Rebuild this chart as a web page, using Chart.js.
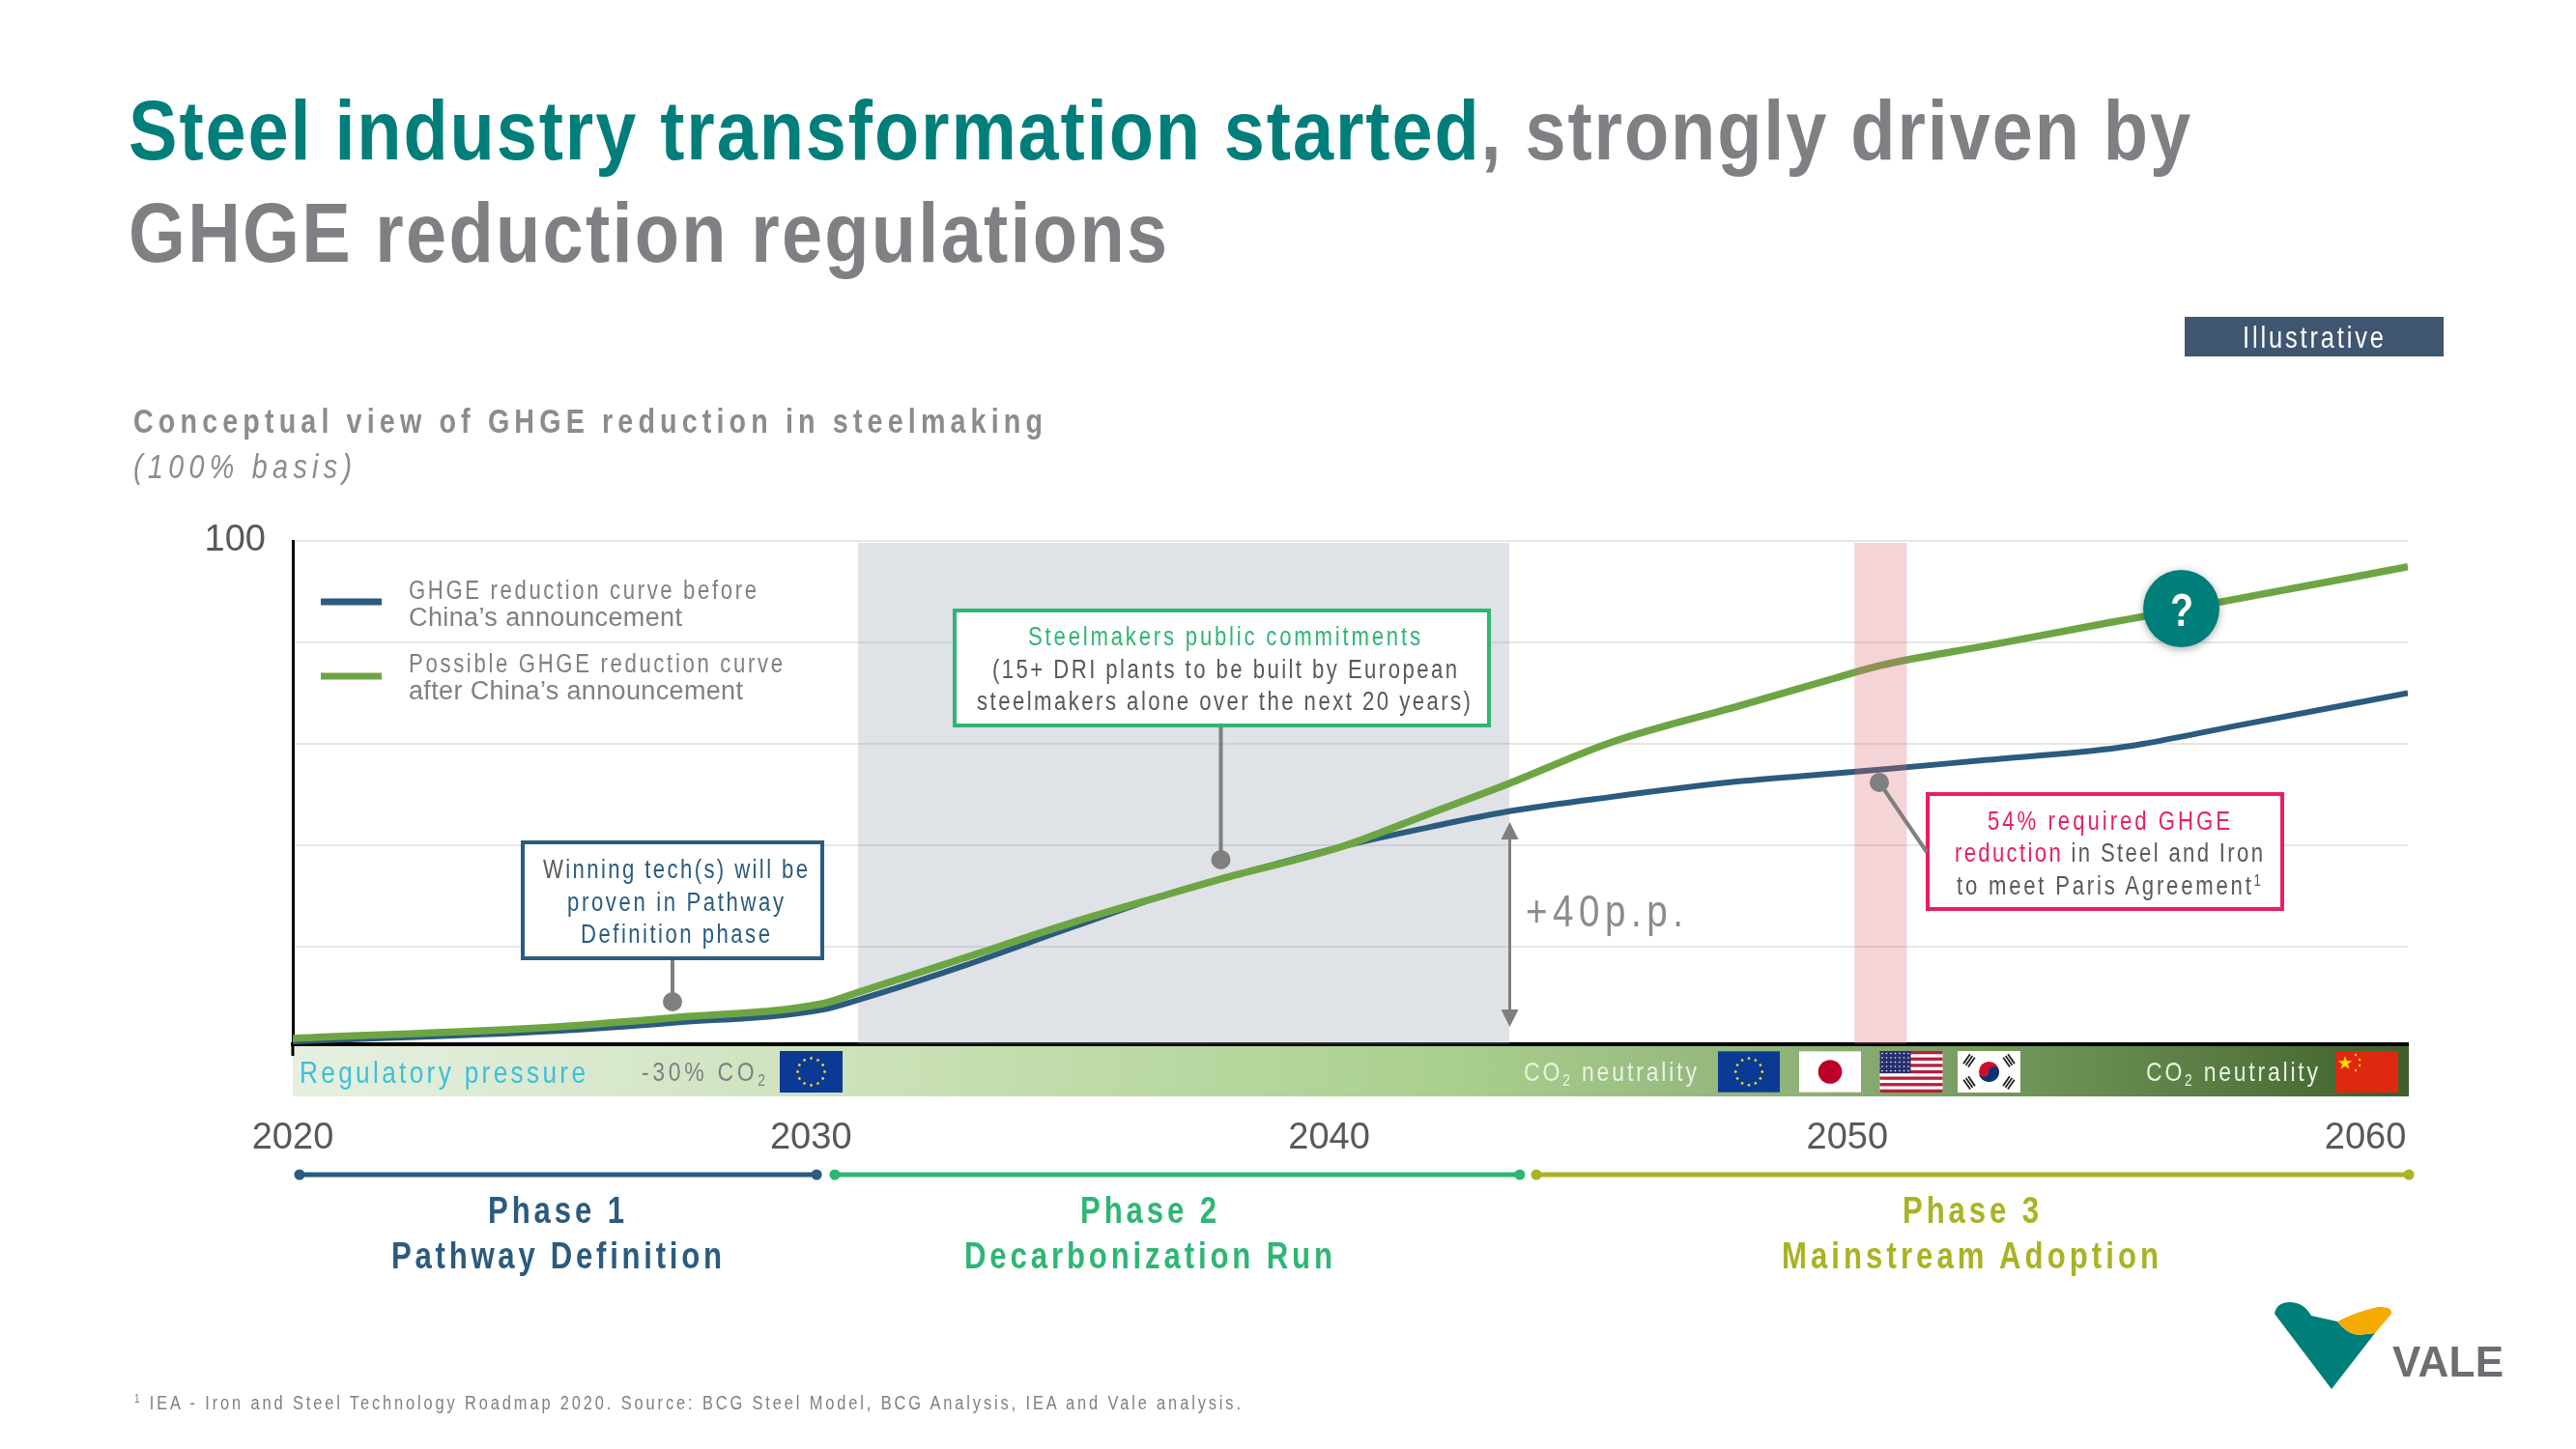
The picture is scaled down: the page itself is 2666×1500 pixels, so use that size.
<!DOCTYPE html>
<html>
<head>
<meta charset="utf-8">
<script src="https://cdn.jsdelivr.net/npm/chart.js@4"></script>
<style>
  html, body { margin: 0; background: #fff; }
  #slide { position: relative; width: 2666px; height: 1500px; overflow: hidden; font-family: "Liberation Sans", sans-serif; }
  #slide > div, #slide > svg, #slide > canvas { position: absolute; }
  .t { white-space: nowrap; line-height: 0; transform-origin: 0 0; }
  .box { background: #fff; box-sizing: border-box; border-style: solid; border-width: 4px; }
  sub, sup { font-size: 60%; line-height: 0; vertical-align: baseline; position: relative; }
  sub { top: .3em; }
  sup { top: -.55em; }
</style>
</head>
<body>
<div id="slide">
  <div id="band" style="left:303px;top:1083px;width:2190px;height:52px;background:linear-gradient(90deg,#e6f0e0 0%,#d8e8cc 15%,#c8e0b4 30%,#a9cf8e 55%,#8db077 72%,#6f9558 82%,#55793f 92%,#3f5e2c 100%)"></div>
  <canvas id="chart" width="2666" height="1500" style="left:0;top:0"></canvas>
  <div style="left:2261px;top:328px;width:268px;height:41px;background:#3f5671"></div>
  <div class="box" style="left:539px;top:870px;width:314px;height:124px;border-color:#2b5b7e"></div>
  <div class="box" style="left:986px;top:630px;width:557px;height:123px;border-color:#2fb574"></div>
  <div class="box" style="left:1993px;top:820px;width:371px;height:123px;border-color:#e8205f"></div>
  <div style="left:2218px;top:590px;width:79px;height:80px;border-radius:50%;background:#007e7a;box-shadow:0 2px 8px rgba(0,0,0,.35)"></div>
  <svg width="2666" height="1500" style="left:0;top:0" id="over">
    <g stroke="#7f7f7f" stroke-width="4" fill="#7f7f7f">
      <line x1="696" y1="994" x2="696" y2="1036"/><circle cx="696" cy="1037" r="8"/>
      <line x1="1263.5" y1="753" x2="1263.5" y2="890"/><circle cx="1263.5" cy="890" r="8"/>
      <line x1="1945" y1="810" x2="1994" y2="882"/><circle cx="1945" cy="810" r="8"/>
      <line x1="1562.5" y1="860" x2="1562.5" y2="1055" stroke-width="3"/>
      <path d="M1562.5 851l9 18h-18zM1562.5 1063l9-18h-18z" stroke="none"/>
    </g>
    <path d="M2354 1360Q2356 1348 2370 1348Q2384 1348 2392 1362L2419 1368Q2428 1380 2440 1382L2458 1380L2413 1438Z" fill="#007e7a"/>
    <path d="M2419 1368Q2438 1358 2461 1353Q2476 1352 2475 1360L2458 1380L2440 1382Q2428 1380 2419 1368Z" fill="#f5ab00"/>
  </svg>
</div>
<script>
const years = [2020, 2025.09, 2027.35, 2030.24, 2030.91, 2033, 2035.03, 2036.75, 2037.9, 2040.27, 2041.95, 2043.48, 2045.42, 2047.92, 2049.78, 2050.62, 2052.67, 2055.06, 2055.71, 2057.43, 2060.82]
const before = [1.3, 3.4, 5, 7.6, 9.5, 16.4, 23.8, 29.9, 33.3, 39.8, 43.6, 46.7, 49.5, 52.6, 54.2, 54.9, 56.8, 59, 60, 63.4, 70]
const after = [1.9, 4.2, 6, 8.8, 11, 17.9, 24.7, 29.9, 33.3, 39.8, 46.3, 52.2, 60.2, 67.5, 73, 75.4, 79.3, 83.9, 85.1, 88.4, 94.9]
const xTicks = [2020, 2030, 2040, 2050, 2060]
const yTicks = [20, 40, 60, 80, 100]
const greyBand = [2030.91, 2043.48]
const pinkBand = [2050.14, 2051.15]
const phaseFrom = [2020.13, 2030.46, 2044]
const phaseTo = [2030.11, 2043.68, 2060.84]
const phaseColors = ['#2b5b7e', '#2fb574', '#a9b323']

const bands = {
  id: 'bands',
  beforeDatasetsDraw(chart) {
    const { ctx, scales: { x, y } } = chart
    ctx.fillStyle = 'rgba(140,150,165,.28)'
    ctx.fillRect(x.getPixelForValue(greyBand[0]), 562, x.getPixelForValue(greyBand[1]) - x.getPixelForValue(greyBand[0]), y.bottom - 562)
  },
  afterDatasetsDraw(chart) {
    const { ctx, scales: { x, y } } = chart
    ctx.fillStyle = 'rgba(220,100,110,.28)'
    ctx.fillRect(x.getPixelForValue(pinkBand[0]), 562, x.getPixelForValue(pinkBand[1]) - x.getPixelForValue(pinkBand[0]), y.bottom - 562)
  },
  afterDraw(chart) {
    const { ctx, scales: { x, y } } = chart
    const py = 1216
    phaseFrom.forEach((from, i) => {
      const a = x.getPixelForValue(from), b = x.getPixelForValue(phaseTo[i])
      ctx.strokeStyle = ctx.fillStyle = phaseColors[i]
      ctx.lineWidth = 5
      ctx.beginPath(); ctx.moveTo(a, py); ctx.lineTo(b, py); ctx.stroke()
      ctx.beginPath(); ctx.arc(a, py, 5.5, 0, 7); ctx.arc(b, py, 5.5, 0, 7); ctx.fill()
    })
    // y axis runs on a bit past the x axis
    ctx.fillStyle = '#000'
    ctx.fillRect(x.left - 1.5, y.bottom, 3, 12)
  }
}

new Chart(document.getElementById('chart'), {
  type: 'line',
  data: {
    datasets: [
      { label: 'GHGE reduction curve before China’s announcement', data: years.map((x, i) => ({ x, y: before[i] })), borderColor: '#2b5b7e', borderWidth: 6, order: 2 },
      { label: 'Possible GHGE reduction curve after China’s announcement', data: years.map((x, i) => ({ x, y: after[i] })), borderColor: '#6ea544', borderWidth: 7.5, order: 1 }
    ]
  },
  options: {
    responsive: false,
    animation: false,
    layout: { padding: { top: 560, right: 174, left: 0, bottom: 0 } },
    elements: { point: { radius: 0 }, line: { cubicInterpolationMode: 'monotone' } },
    plugins: { legend: { display: false }, title: { display: false }, tooltip: { enabled: false } },
    scales: {
      x: {
        type: 'linear', min: 2020, max: 2060.82,
        afterBuildTicks: s => { s.ticks = xTicks.map(value => ({ value })) },
        afterFit: s => { s.height = 419 },
        grid: { display: false, drawTicks: false },
        border: { color: '#000', width: 4 },
        ticks: { autoSkip: false, maxRotation: 0, padding: 75, color: '#595959', font: { family: 'Liberation Sans', size: 38 }, callback: v => String(v) }
      },
      y: {
        min: 0.76, max: 100,
        afterBuildTicks: s => { s.ticks = yTicks.map(value => ({ value })) },
        afterFit: s => { s.width = 303 },
        grid: { color: '#e6e6e6', lineWidth: 2, drawTicks: false },
        border: { color: '#000', width: 3 },
        ticks: { padding: 28, color: '#595959', font: { family: 'Liberation Sans', size: 38 }, callback: v => v === 100 ? '100' : '' }
      }
    }
  },
  plugins: [bands]
})

// x, baseline, target width, font size, colour, html, extra css, x squeeze
const teal = '#007e7a', grey = '#7f8083', dark = '#595959', blue = '#2b5b7e', green = '#2fb574', olive = '#a9b323', pink = '#e8205f'
const texts = [
  [133, 165, 2134, 88, grey, '<span style="color:' + teal + '">Steel industry transformation started</span>, strongly driven by', 'font-weight:bold', 0.86],
  [133, 271, 1075, 88, grey, 'GHGE reduction regulations', 'font-weight:bold', 0.86],
  [2321, 361, 146, 31, '#fff', 'Illustrative'],
  [138, 448, 941, 35, '#8a8c8e', 'Conceptual view of GHGE reduction in steelmaking', 'font-weight:bold'],
  [138, 495, 226, 35, '#8a8c8e', '(100% basis)', 'font-style:italic'],
  [423, 620, 360, 27, '#808080', 'GHGE reduction curve before'],
  [423, 648, 283, 27, '#808080', 'China’s announcement', '', 1],
  [423, 696, 387, 27, '#808080', 'Possible GHGE reduction curve'],
  [423, 724, 346, 27, '#808080', 'after China’s announcement', '', 1],
  [562, 909, 274, 27, blue, '<span style="color:#595959">W</span>inning tech(s) will be'],
  [587, 943, 224, 27, blue, 'proven in Pathway'],
  [601, 976, 196, 27, blue, 'Definition phase'],
  [1064, 668, 406, 27, green, 'Steelmakers public commitments'],
  [1027, 702, 481, 27, dark, '(15+ DRI plants to be built by European'],
  [1011, 735, 511, 27, dark, 'steelmakers alone over the next 20 years)'],
  [2057, 859, 251, 27, pink, '54% required GHGE'],
  [2023, 892, 319, 27, dark, '<span style="color:' + pink + '">reduction</span> in Steel and Iron'],
  [2025, 926, 315, 27, dark, 'to meet Paris Agreement<sup>1</sup>'],
  [1579, 959, 163, 47, '#8a8c8e', '+40p.p.'],
  [2246, 649, 24, 48, '#fff', '?', 'font-weight:bold'],
  [310, 1121, 296, 32, '#3cc0d8', 'Regulatory pressure'],
  [664, 1120, 128, 28, grey, '-30% CO<sub>2</sub>'],
  [1577, 1120, 179, 28, '#eaf2e2', 'CO<sub>2</sub> neutrality'],
  [2221, 1120, 178, 28, '#eaf2e2', 'CO<sub>2</sub> neutrality'],
  [505, 1266, 141, 38, blue, 'Phase 1', 'font-weight:bold'],
  [405, 1313, 342, 38, blue, 'Pathway Definition', 'font-weight:bold'],
  [1118, 1266, 141, 38, green, 'Phase 2', 'font-weight:bold'],
  [998, 1313, 381, 38, green, 'Decarbonization Run', 'font-weight:bold'],
  [1969, 1266, 141, 38, olive, 'Phase 3', 'font-weight:bold'],
  [1844, 1313, 390, 38, olive, 'Mainstream Adoption', 'font-weight:bold'],
  [2476, 1425, 115, 44, '#6d6e71', 'VALE', 'font-weight:bold', 1],
  [139, 1459, 1145, 20, '#808080', '<sup>1</sup> IEA - Iron and Steel Technology Roadmap 2020. Source: BCG Steel Model, BCG Analysis, IEA and Vale analysis.']
]
const slide = document.getElementById('slide')
for (const [x, base, w, size, color, html, extra, squeeze = 0.82] of texts) {
  const d = document.createElement('div')
  d.className = 't'
  d.style.cssText = `left:${x}px;top:${base - 0.3465 * size}px;font-size:${size}px;color:${color};${extra || ''}`
  d.innerHTML = html
  slide.appendChild(d)
  const n = d.textContent.length
  if (n > 1) d.style.letterSpacing = ((w / squeeze - d.getBoundingClientRect().width) / (n - 1)) + 'px'
  d.style.transform = `scaleX(${squeeze})`
}

// flags
const ns = (x, y, w, h, inner) => `<svg x="${x}" y="${y}" width="${w}" height="${h}" viewBox="0 0 65 43">${inner}</svg>`
let stars = ''
for (let i = 0; i < 12; i++) stars += `<circle cx="${32.5 + 14 * Math.cos(i * Math.PI / 6)}" cy="${21.5 + 14 * Math.sin(i * Math.PI / 6)}" r="1.4" fill="#f4d21f"/>`
const eu = `<rect width="65" height="43" fill="#0a3a94"/>` + stars
let us = `<rect width="65" height="43" fill="#fff"/>`
for (let i = 0; i < 7; i++) us += `<rect y="${i * 6.62}" width="65" height="3.31" fill="#b5203d"/>`
us += `<rect width="32" height="23" fill="#27306e"/>`
for (let r = 0; r < 5; r++) for (let q = 0; q < 7; q++) us += `<circle cx="${2.5 + q * 4.5}" cy="${2.5 + r * 4.5}" r=".8" fill="#fff"/>`
const jp = `<rect width="65" height="43" fill="#fff"/><circle cx="32.5" cy="21.5" r="12.5" fill="#bc0029"/>`
const bars = (x, y, a) => `<g transform="translate(${x} ${y}) rotate(${a})" fill="#222"><rect x="-6" y="-4" width="12" height="1.8"/><rect x="-6" y="-1" width="12" height="1.8"/><rect x="-6" y="2" width="12" height="1.8"/></g>`
const kr = `<rect width="65" height="43" fill="#fff"/><circle cx="32.5" cy="21.5" r="10.5" fill="#c8102e"/><path d="M22 21.5a5.25 5.25 0 0 0 10.5 0a5.25 5.25 0 0 1 10.5 0a10.5 10.5 0 0 1-21 0z" fill="#003478"/>` + bars(12, 10, -55) + bars(53, 10, 55) + bars(12, 33, 55) + bars(53, 33, -55)
const cn = `<rect width="65" height="43" fill="#de2910"/><path d="M10 5l2.2 6.6h7l-5.6 4.1 2.1 6.6-5.7-4.1-5.7 4.1 2.1-6.6-5.6-4.1h7z" transform="translate(2 1) scale(.8)" fill="#ffde00"/><g fill="#ffde00"><circle cx="21" cy="4" r="1.2"/><circle cx="25" cy="9" r="1.2"/><circle cx="25" cy="15" r="1.2"/><circle cx="21" cy="20" r="1.2"/></g>`
document.getElementById('over').insertAdjacentHTML('beforeend',
  ns(807, 1088, 65, 43, eu) + ns(1778, 1088, 64, 43, eu) + ns(1862, 1088, 64, 43, jp) + ns(1945, 1088, 66, 43, us) + ns(2026, 1088, 65, 43, kr) + ns(2417, 1088, 65, 43, cn))

// legend swatches
document.getElementById('over').insertAdjacentHTML('beforeend', '<rect x="332" y="619.5" width="63" height="7" fill="#2b5b7e"/><rect x="332" y="696.5" width="63" height="7" fill="#6ea544"/>')
</script>
</body>
</html>
